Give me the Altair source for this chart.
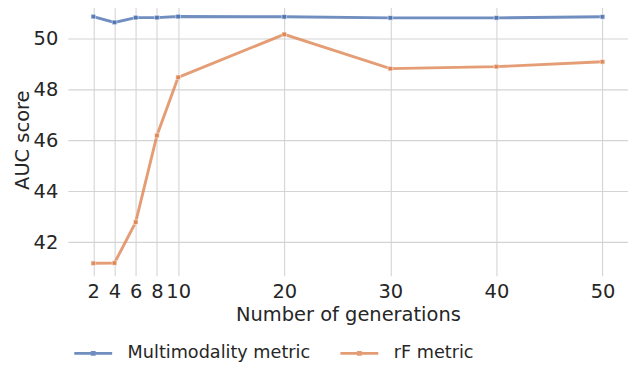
import altair as alt
import pandas as pd

generations = [2, 4, 6, 8, 10, 20, 30, 40, 50]
multimodality = [50.88, 50.65, 50.84, 50.84, 50.88, 50.87, 50.83, 50.83, 50.87]
rf_metric = [41.17, 41.18, 42.79, 46.20, 48.49, 50.18, 48.83, 48.91, 49.10]
series_names = ["Multimodality metric", "rF metric"]
series_colors = ["#4C72B0", "#DD8452"]
x_ticks = [2, 4, 6, 8, 10, 20, 30, 40, 50]
y_ticks = [42, 44, 46, 48, 50]

rows = []
for g, v in zip(generations, multimodality):
    rows.append({"gen": g, "auc": v, "metric": series_names[0]})
for g, v in zip(generations, rf_metric):
    rows.append({"gen": g, "auc": v, "metric": series_names[1]})
df = pd.DataFrame(rows)

FONT = "DejaVu Sans"
TXT = "#262626"
FS = 19.5
LFS = 17.7

x = alt.X("gen:Q", title="Number of generations",
          scale=alt.Scale(domain=[-0.4, 52.4], nice=False, zero=False),
          axis=alt.Axis(values=x_ticks, grid=True, domain=False, ticks=False,
                        labelPadding=7, titlePadding=4, labelFlush=False))
y = alt.Y("auc:Q", title="AUC score",
          scale=alt.Scale(domain=[40.68, 51.39], nice=False, zero=False),
          axis=alt.Axis(values=y_ticks, grid=True, domain=False, ticks=False,
                        labelPadding=10, titlePadding=1))
color_scale = alt.Scale(domain=series_names, range=series_colors)

legend_path = "M-1,0H1M-0.05,-0.05H0.05V0.05H-0.05Z"

lines = alt.Chart(df).mark_line(strokeWidth=2.9, opacity=0.8).encode(
    x=x, y=y,
    color=alt.Color("metric:N", scale=color_scale, sort=series_names,
                    legend=alt.Legend(title=None, orient="none", direction="horizontal",
                                      legendX=5, legendY=330,
                                      symbolType=legend_path, symbolSize=1444,
                                      symbolStrokeWidth=2.9, symbolOpacity=0.8,
                                      labelOffset=14, columnPadding=23, labelLimit=0,
                                      labelFontSize=LFS, labelFont=FONT,
                                      labelColor=TXT, padding=0)),
)
points = alt.Chart(df).mark_point(shape="square", filled=True, size=22, opacity=0.85,
                                  stroke="white", strokeWidth=0.6).encode(
    x=x, y=y,
    color=alt.Color("metric:N", scale=color_scale, sort=series_names, legend=None),
)

chart = (lines + points).properties(
    width=562, height=273,
    autosize=alt.AutoSizeParams(type="none"),
    padding={"left": 60, "top": -5, "right": 0, "bottom": 100},
).configure_view(stroke=None).configure_axis(
    gridColor="#d4d4d4", gridWidth=1.1,
    labelFont=FONT, labelFontSize=FS, labelColor=TXT,
    titleFont=FONT, titleFontSize=FS, titleColor=TXT, titleFontWeight="normal",
)

chart.save("out.html", embed_options={"renderer": "svg", "actions": False})
